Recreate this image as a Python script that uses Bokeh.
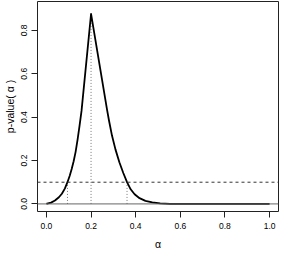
from bokeh.plotting import figure
from bokeh.models import Range1d, FixedTicker, Span
from bokeh.embed import file_html
from bokeh.resources import INLINE

# p-value function
alpha = [0.000, 0.003, 0.0207, 0.0383, 0.0559, 0.0692, 0.0824, 0.0943, 0.1044, 0.1132,
         0.1220, 0.1308, 0.1396, 0.1485, 0.1573, 0.2000,
         0.2718, 0.2806, 0.2938, 0.3093, 0.3269, 0.3445, 0.3612, 0.3775, 0.3952,
         0.4172, 0.4436, 0.4744, 0.5097, 0.5537, 0.5978, 0.8000, 1.0000]
pval = [0.000, 0.0014, 0.0059, 0.0155, 0.0305, 0.0468, 0.0705, 0.1000, 0.1295, 0.1605,
        0.1968, 0.2400, 0.2968, 0.3605, 0.4286, 0.8755,
        0.4332, 0.3832, 0.3150, 0.2514, 0.1923, 0.1423, 0.1000, 0.0673, 0.0445,
        0.0264, 0.0141, 0.0068, 0.0027, 0.0005, 0.0000, 0.0000, 0.0000]

# reference lines
level = 0.1
estimate = 0.2
estimate_p = 0.8755
ci_lower = 0.0943
ci_upper = 0.3612

x_ticks = [0.0, 0.2, 0.4, 0.6, 0.8, 1.0]
x_tick_labels = ["0.0", "0.2", "0.4", "0.6", "0.8", "1.0"]
y_ticks = [0.0, 0.2, 0.4, 0.6, 0.8]
y_tick_labels = ["0.0", "0.2", "0.4", "0.6", "0.8"]

FONT = "Liberation Sans"

p = figure(width=278, height=248, frame_width=241, frame_height=210,
           output_backend="svg", toolbar_location=None,
           x_range=Range1d(-0.04, 1.04), y_range=Range1d(-0.035, 0.933),
           min_border_left=36, min_border_right=1, min_border_top=1, min_border_bottom=37)

p.grid.visible = False
p.background_fill_color = "white"
p.border_fill_color = "white"
p.outline_line_color = "#222222"
p.outline_line_width = 1
p.outline_line_alpha = 1

# zero line and level line
p.add_layout(Span(location=0, dimension="width", line_color="#666666", line_width=1))
p.add_layout(Span(location=level, dimension="width", line_color="#333333",
                  line_width=1, line_dash="3 3"))

# dotted verticals
p.segment(x0=[estimate, ci_lower, ci_upper], y0=[0, 0, 0],
          x1=[estimate, ci_lower, ci_upper], y1=[estimate_p, level, level],
          line_color="#777777", line_width=1, line_dash="1 2")

p.line(alpha, pval, line_color="black", line_width=1.8, line_join="round")

for ax, ticks, labels in ((p.xaxis[0], x_ticks, x_tick_labels), (p.yaxis[0], y_ticks, y_tick_labels)):
    ax.ticker = FixedTicker(ticks=ticks)
    ax.major_label_overrides = {t: l for t, l in zip(ticks, labels)}
    ax.minor_tick_line_color = None
    ax.major_tick_in = 0
    ax.major_tick_out = 6
    ax.major_tick_line_color = "#222222"
    ax.axis_line_color = "#222222"
    ax.major_label_text_font = FONT
    ax.major_label_text_font_size = "8.5px"
    ax.major_label_text_color = "black"
    ax.axis_label_text_font = FONT
    ax.axis_label_text_font_size = "10.5px"
    ax.axis_label_text_font_style = "normal"
    ax.axis_label_text_color = "black"
    ax.bounds = (ticks[0], ticks[-1])

p.xaxis[0].axis_label = "α"
p.xaxis[0].major_label_standoff = 5
p.xaxis[0].axis_label_standoff = 6
p.yaxis[0].axis_label = "p-value( α )"
p.yaxis[0].major_label_orientation = "vertical"
p.yaxis[0].major_label_standoff = 4
p.yaxis[0].axis_label_standoff = 3

open("out.html", "w").write(file_html(p, INLINE))
